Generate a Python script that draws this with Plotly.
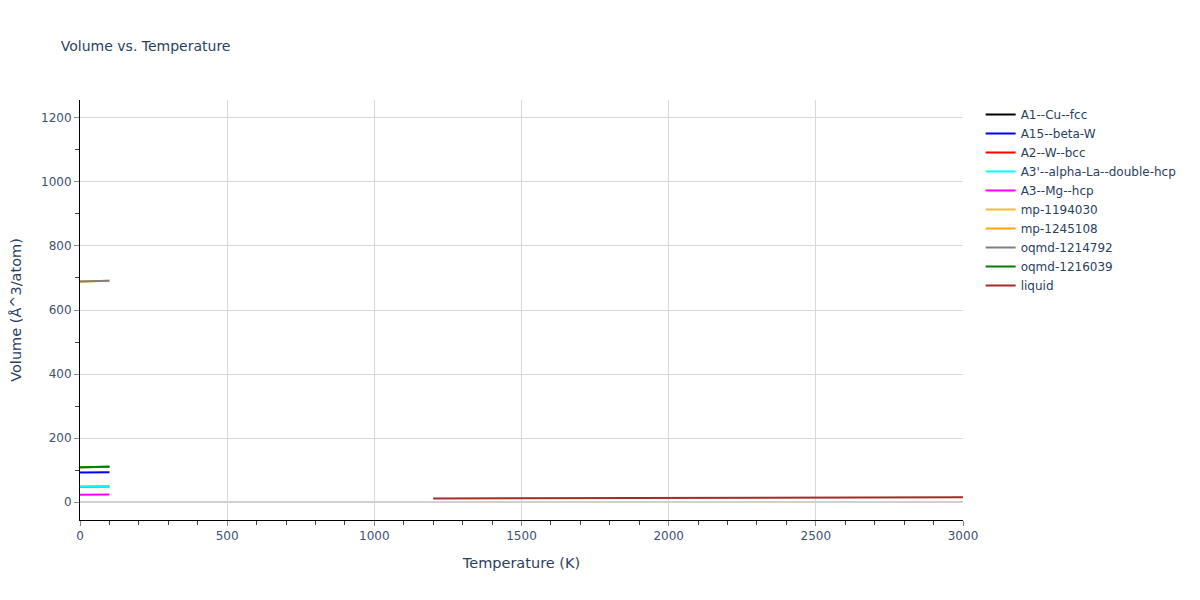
import plotly.graph_objects as go

# temperatures (K)
temps_solid = [0, 20, 40, 60, 80, 100]
temps_liquid = [1200, 1500, 1800, 2100, 2400, 2700, 3000]

# volumes (Å^3/atom)
vol_a1_cu_fcc = [109.0, 109.3, 109.6, 109.9, 110.2, 110.5]
vol_a15_beta_w = [92.0, 92.2, 92.4, 92.6, 92.8, 93.0]
vol_a2_w_bcc = [48.0, 48.1, 48.2, 48.3, 48.4, 48.5]
vol_a3p_alpha_la = [48.0, 48.1, 48.2, 48.3, 48.4, 48.5]
vol_a3_mg_hcp = [23.0, 23.1, 23.2, 23.3, 23.4, 23.5]
vol_mp_1194030 = [109.0, 109.3, 109.6, 109.9, 110.2, 110.5]
vol_mp_1245108 = [689.0, 689.4, 689.8, 690.2, 690.6, 691.0]
vol_oqmd_1214792 = [689.0, 689.4, 689.8, 690.2, 690.6, 691.0]
vol_oqmd_1216039 = [109.0, 109.3, 109.6, 109.9, 110.2, 110.5]
vol_liquid = [11.0, 11.7, 12.3, 13.0, 13.7, 14.3, 15.0]

series = [
    ("A1--Cu--fcc", temps_solid, vol_a1_cu_fcc, "black"),
    ("A15--beta-W", temps_solid, vol_a15_beta_w, "blue"),
    ("A2--W--bcc", temps_solid, vol_a2_w_bcc, "red"),
    ("A3'--alpha-La--double-hcp", temps_solid, vol_a3p_alpha_la, "cyan"),
    ("A3--Mg--hcp", temps_solid, vol_a3_mg_hcp, "magenta"),
    ("mp-1194030", temps_solid, vol_mp_1194030, "#f0c030"),
    ("mp-1245108", temps_solid, vol_mp_1245108, "orange"),
    ("oqmd-1214792", temps_solid, vol_oqmd_1214792, "gray"),
    ("oqmd-1216039", temps_solid, vol_oqmd_1216039, "green"),
    ("liquid", temps_liquid, vol_liquid, "brown"),
]

fig = go.Figure()
for name, x, y, color in series:
    fig.add_trace(go.Scatter(x=x, y=y, mode="lines", name=name,
                             line=dict(color=color, width=2)))

axis_style = dict(
    showline=True, linecolor="black", linewidth=1,
    gridcolor="#d9d9d9", zeroline=True, zerolinecolor="#d0d0d0", zerolinewidth=2,
    ticks="outside", tickcolor="#888", automargin=False,
    title_font=dict(size=14.5), tickfont=dict(size=12, color="#3d5170"),
)

# page body adds an 8px offset, so margins are trimmed to land the plot area
fig.update_layout(
    title=dict(text="Volume vs. Temperature", x=0.044, y=0.945,
               font=dict(size=14, color="#2a3f5f")),
    width=1200, height=600,
    plot_bgcolor="white", paper_bgcolor="white",
    margin=dict(l=72, r=245, t=92, b=88),
    font=dict(family="DejaVu Sans, Verdana", color="#2a3f5f"),
    legend=dict(x=1.02, y=1, font=dict(size=12)),
    xaxis=dict(title="Temperature (K)", range=[0, 3000], dtick=500,
               minor=dict(dtick=100, ticks="outside", ticklen=4, tickcolor="#444", showgrid=False),
               **axis_style),
    yaxis=dict(title="Volume (Å^3/atom)", range=[-56, 1256], dtick=200,
               minor=dict(dtick=100, ticks="outside", ticklen=4, tickcolor="#444", showgrid=False),
               **axis_style),
)

fig.write_html("out.html")
